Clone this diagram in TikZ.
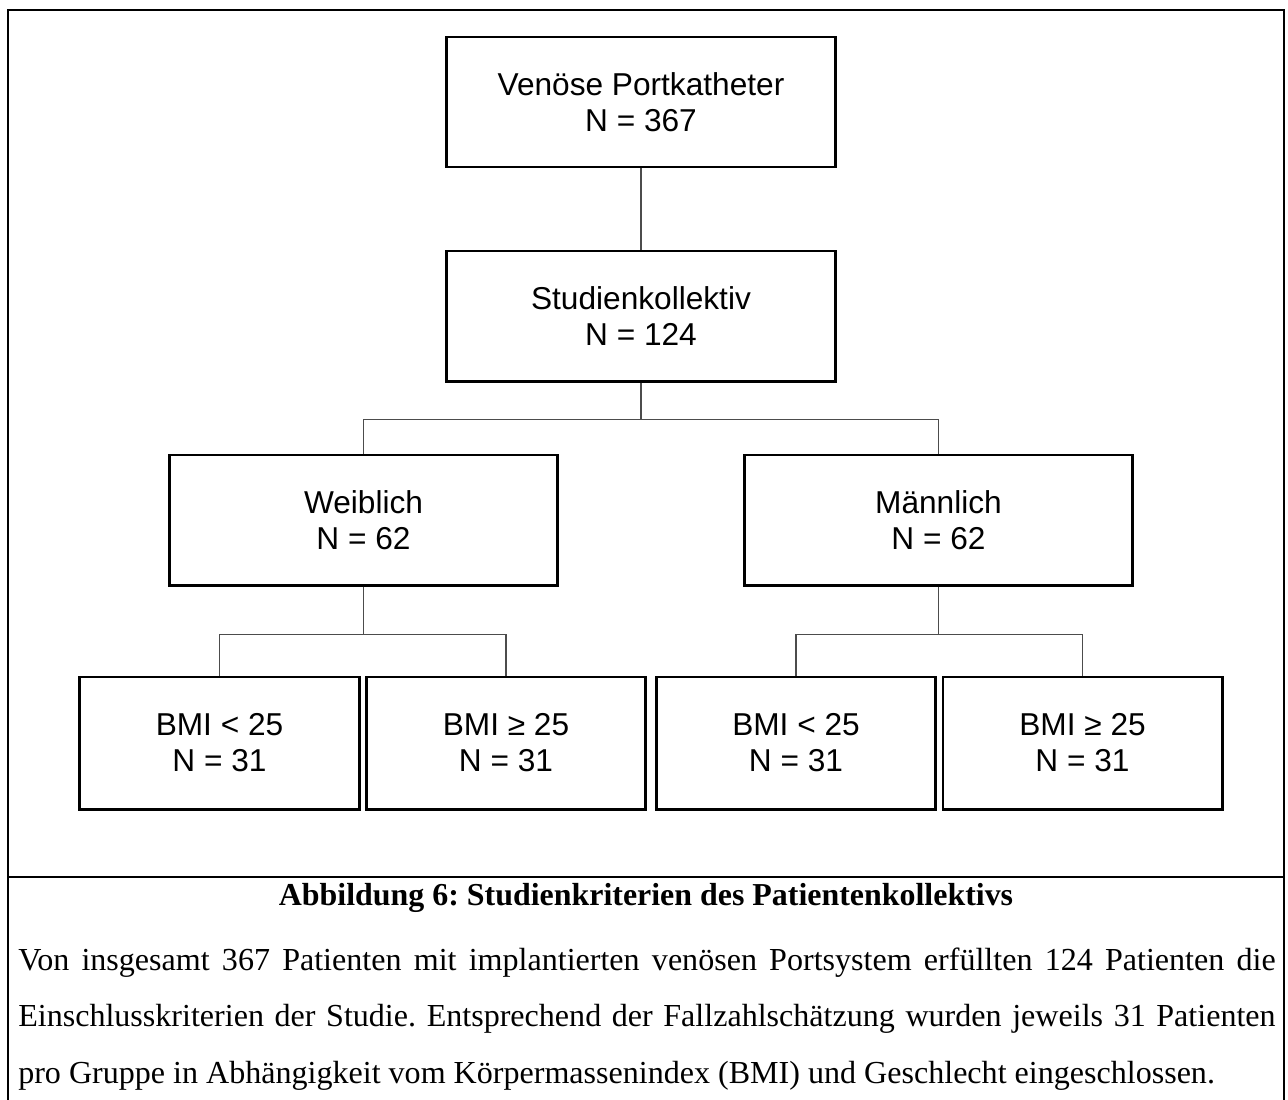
\documentclass[tikz,border=0pt]{standalone}
\usepackage{fontspec}
\setmainfont{Liberation Serif}
\newfontfamily\boxfont{Liberation Sans}
\frenchspacing
\tikzset{
      frameline/.style = { line width=2.1pt, black },
      bigbox/.style    = { draw, line width=2.1pt, rectangle, align=center, inner sep=0pt,
                           minimum width=9.7cm, minimum height=3.25cm,
                           font=\boxfont\fontsize{22.5}{25.6}\selectfont },
      smallbox/.style  = { bigbox, minimum width=6.975cm, minimum height=3.3cm },
      link/.style      = { line width=0.75pt, black!70 },
      caption/.style   = { inner sep=0pt, font=\fontsize{22.8}{40.5}\selectfont }
    }
\begin{document}
\begin{tikzpicture}[x=0.025cm, y=-0.025cm]
      \useasboundingbox (0,0) rectangle (1288,1099);
      % Draw the frame
      \draw[frameline] (8,1102) |- (1284,10) -- (1284,1102);
      \draw[frameline] (8,877) -- (1284,877);

      % Draw all boxes
      \node[bigbox] (port)  at (641,102)   {Venöse Portkatheter\\N = 367};
      \node[bigbox] (stud)  at (641,316)   {Studienkollektiv\\N = 124};
      \node[bigbox] (weib)  at (363.5,520) {Weiblich\\N = 62};
      \node[bigbox] (maenn) at (938.5,520) {Männlich\\N = 62};
      \foreach \name/\x/\lab in {wlow/219.5/{BMI < 25}, whigh/506/{BMI ≥ 25},
                                 mlow/796/{BMI < 25}, mhigh/1082.5/{BMI ≥ 25}} {
        \node[smallbox] (\name) at (\x,743) {\lab\\N = 31};
      }

      % Draw connections
      \draw[link] (port.south) -- (stud.north);
      \draw[link] (stud.south) -- ++(0,37) coordinate (sjoin);
      \draw[link] (weib.north) |- (sjoin) -| (maenn.north);
      \draw[link] (weib.south) -- ++(0,48) coordinate (wjoin);
      \draw[link] (wlow.north) |- (wjoin) -| (whigh.north);
      \draw[link] (maenn.south) -- ++(0,48) coordinate (mjoin);
      \draw[link] (mlow.north) |- (mjoin) -| (mhigh.north);

      % Draw caption
      \node[caption, anchor=base, font=\fontsize{22.7}{27}\selectfont\bfseries] (title) at (646,905)
        {Abbildung 6: Studienkriterien des Patientenkollektivs};
      \node[caption, anchor=base west, text width=31.425cm, align=justify] (text) at (18,970)
        {Von insgesamt 367 Patienten mit implantierten venösen Portsystem erfüllten 124 Patienten die\linebreak
         Einschlusskriterien der Studie. Entsprechend der Fallzahlschätzung wurden jeweils 31 Patienten\linebreak
         pro Gruppe in Abhängigkeit vom Körpermassenindex (BMI) und Geschlecht eingeschlossen.};
\end{tikzpicture}
\end{document}
